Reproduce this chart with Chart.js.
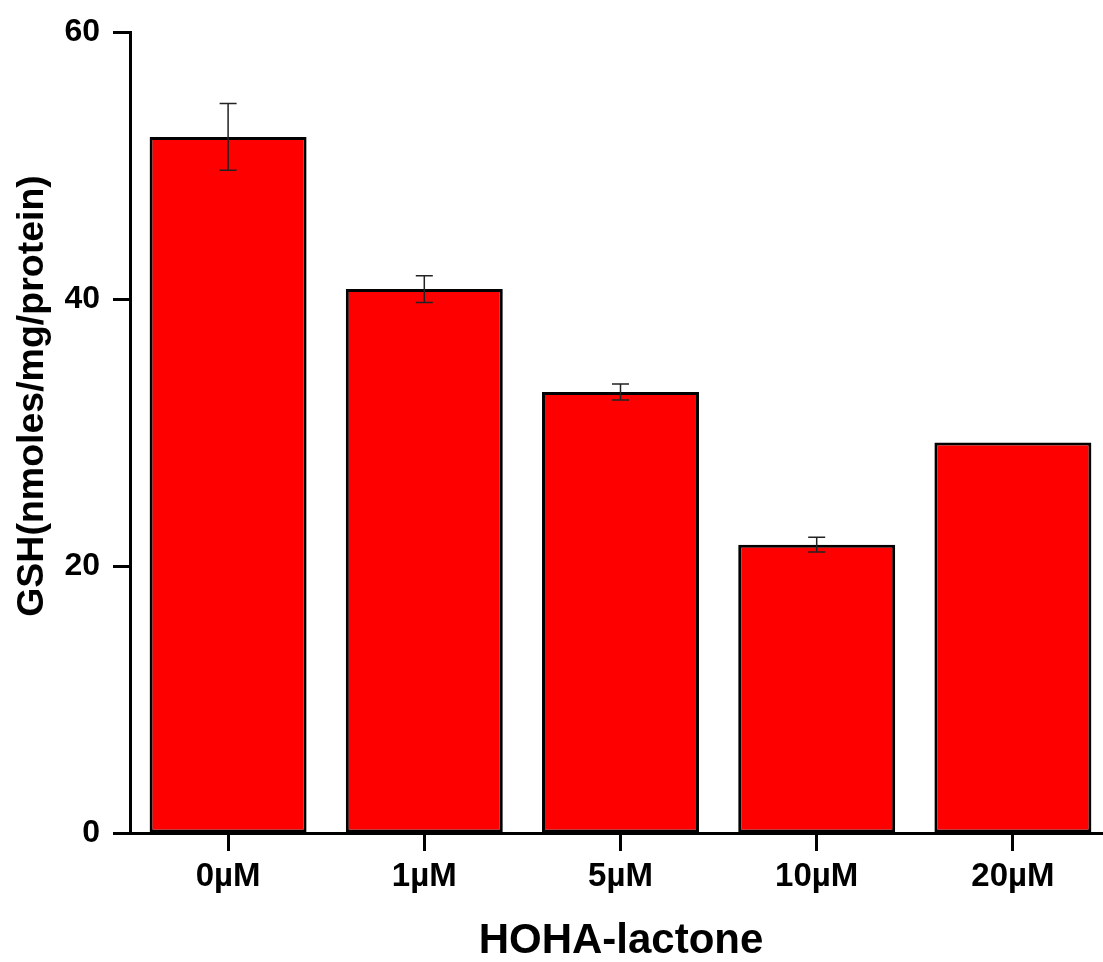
<!DOCTYPE html>
<html>
<head>
<meta charset="utf-8">
<title>GSH vs HOHA-lactone</title>
<script src="https://cdn.jsdelivr.net/npm/chart.js@4/dist/chart.umd.min.js"></script>
<style>
  html, body { margin: 0; padding: 0; background: #fff; overflow: hidden; }
  #wrap { width: 1120px; height: 962px; }
</style>
</head>
<body>
<div id="wrap"><canvas id="gshChart" width="1120" height="962"></canvas></div>
<script>
// data
const doses = ['0µM', '1µM', '5µM', '10µM', '20µM'];
const gshMeans = [52.15, 40.75, 33.05, 21.6, 29.25];
const gshErrors = [2.5, 1.0, 0.6, 0.55, 0];
const yTicks = [0, 20, 40, 60];

const xTitle = 'HOHA-lactone';
const yTitle = 'GSH(nmoles/mg/protein)';
const FONT = '"Liberation Sans", Arial, Helvetica, sans-serif';

// error bars on top of each bar
const errorBarPlugin = {
    id: 'errorBars',
    afterDatasetsDraw(chart) {
        const ctx = chart.ctx;
        const yScale = chart.scales.y;
        const meta = chart.getDatasetMeta(0);
        ctx.save();
        ctx.strokeStyle = '#222';
        ctx.lineWidth = 1.5;
        meta.data.forEach((bar, i) => {
            const err = gshErrors[i];
            if (!err) return;
            const x = bar.x;
            const top = yScale.getPixelForValue(gshMeans[i] + err);
            const bottom = yScale.getPixelForValue(gshMeans[i] - err);
            const cap = 8.5;
            ctx.beginPath();
            ctx.moveTo(x, top); ctx.lineTo(x, bottom);
            ctx.moveTo(x - cap, top); ctx.lineTo(x + cap, top);
            ctx.moveTo(x - cap, bottom); ctx.lineTo(x + cap, bottom);
            ctx.stroke();
        });
        ctx.restore();
    }
};

// axis titles placed where the original has them
const axisTitlePlugin = {
    id: 'axisTitles',
    afterDraw(chart) {
        const ctx = chart.ctx;
        ctx.save();
        ctx.fillStyle = '#000';
        ctx.textAlign = 'center';
        ctx.textBaseline = 'middle';
        ctx.font = 'bold 42px ' + FONT;
        ctx.fillText(xTitle, 621, 941);
        ctx.translate(33, 396);
        ctx.rotate(-Math.PI / 2);
        ctx.font = 'bold 37.5px ' + FONT;
        ctx.fillText(yTitle, 0, 0);
        ctx.restore();
    }
};

const ctx = document.getElementById('gshChart');
const chart = new Chart(ctx, {
    type: 'bar',
    data: {
        labels: doses,
        datasets: [{
            data: gshMeans,
            backgroundColor: '#ff0000',
            borderColor: '#000',
            borderWidth: 3,
            borderSkipped: false,
            categoryPercentage: 1.0,
            barPercentage: 0.8
        }]
    },
    options: {
        responsive: false,
        animation: false,
        layout: { padding: { top: 31, right: 9, left: 0, bottom: 0 } },
        plugins: {
            legend: { display: false },
            tooltip: { enabled: false }
        },
        scales: {
            x: {
                offset: true,
                afterFit: (scale) => { scale.height = 129; },
                border: { display: true, color: '#000', width: 3 },
                grid: {
                    drawOnChartArea: false,
                    drawTicks: true,
                    tickLength: 18,
                    tickColor: '#000',
                    tickWidth: 3,
                    offset: false
                },
                ticks: {
                    color: '#000',
                    padding: 6,
                    font: { family: FONT, size: 33, weight: 'bold' }
                }
            },
            y: {
                min: 0,
                max: 60,
                afterFit: (scale) => { scale.width = 130; },
                afterBuildTicks: (scale) => { scale.ticks = yTicks.map(v => ({ value: v })); },
                border: { display: true, color: '#000', width: 3 },
                grid: {
                    drawOnChartArea: false,
                    drawTicks: true,
                    tickLength: 17,
                    tickColor: '#000',
                    tickWidth: 3
                },
                ticks: {
                    color: '#000',
                    padding: 13,
                    font: { family: FONT, size: 32, weight: 'bold' }
                }
            }
        }
    },
    plugins: [errorBarPlugin, axisTitlePlugin]
});
</script>
</body>
</html>
